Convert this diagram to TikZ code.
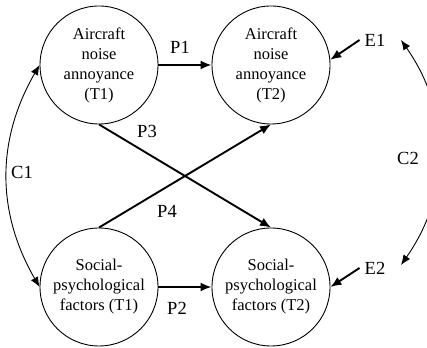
\documentclass[tikz,border=0pt]{standalone}
\usepackage{fontspec}
\setmainfont{Liberation Serif}
\usetikzlibrary{arrows.meta}
\begin{document}
\begin{tikzpicture}[x=1pt,y=1pt,
  construct/.style={circle,draw,line width=0.9pt,minimum size=118pt,inner sep=0pt,
    align=center,font=\fontsize{16.5}{20}\selectfont},
  lbl/.style={inner sep=1pt,font=\fontsize{18.5}{22}\selectfont},
  errlbl/.style={inner sep=5pt,font=\fontsize{18.5}{22}\selectfont},
  effect/.style={line width=1.9pt,-{Latex[length=11pt,width=9pt]}},
  corr/.style={line width=0.9pt,{Latex[length=10pt,width=8pt]}-{Latex[length=10pt,width=8pt]}}]
\useasboundingbox (0,0) rectangle (427,347);
\clip (0,0) rectangle (427,347);

% latent constructs at two time points
\node[construct] (A1) at (99,282) {Aircraft\\noise\\annoyance\\(T1)};
\node[construct] (A2) at (271,282) {Aircraft\\noise\\annoyance\\(T2)};
\node[construct] (S1) at (99,60) {Social-\\psychological\\factors (T1)};
\node[construct] (S2) at (271,60) {Social-\\psychological\\factors (T2)};

% error terms
\node[errlbl] (E1) at (375,307) {E1};
\node[errlbl] (E2) at (375,79) {E2};
\coordinate (c2top) at (401,307);
\coordinate (c2bot) at (401,82);

% cross-lagged and autoregressive paths
\draw[effect] (A1) -- (A2);
\draw[effect] (S1) -- (S2);
\draw[effect] (A1.south) -- (S2.north);
\draw[effect] (S1.north) -- (A2.south);
\draw[effect] (E1.west) -- (A2.5);
\draw[effect] (E2.west) -- (S2.0);

% correlations
\draw[corr] (A1.west) to[bend right=30] (S1.west);
\draw[corr] (c2top) to[bend left=35] (c2bot);

% path labels
\node[lbl] (P1) at (180,300) {P1};
\node[lbl] (P2) at (177,39) {P2};
\node[lbl] (P3) at (147,216) {P3};
\node[lbl] (P4) at (167,136) {P4};
\node[lbl] (C1) at (22,175) {C1};
\node[lbl] (C2) at (408,189) {C2};
\end{tikzpicture}
\end{document}
